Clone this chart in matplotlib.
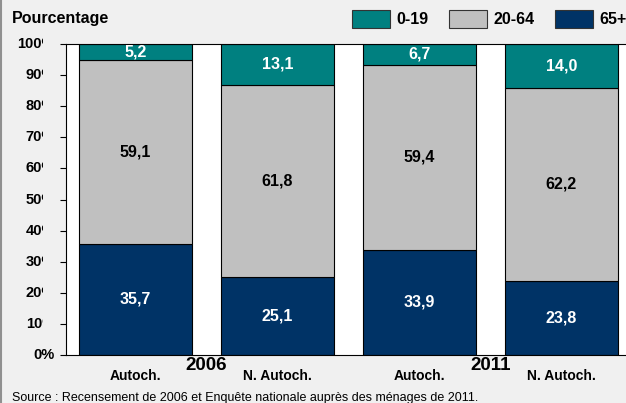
import matplotlib.pyplot as plt
from matplotlib import transforms
from matplotlib.patches import Patch

plt.rcParams["font.family"] = ["Liberation Sans", "DejaVu Sans"]

# data
groups = ["Autoch.", "N. Autoch.", "Autoch.", "N. Autoch."]
years = ["2006", "2011"]
age_0_19 = [5.2, 13.1, 6.7, 14.0]
age_20_64 = [59.1, 61.8, 59.4, 62.2]
age_65 = [35.7, 25.1, 33.9, 23.8]
series_names = ["0-19", "20-64", "65+"]
yticks = [0, 10, 20, 30, 40, 50, 60, 70, 80, 90, 100]

c_teal = "#008080"
c_gray = "#c0c0c0"
c_navy = "#003366"

W, H = 626, 403
fig = plt.figure(figsize=(W / 100, H / 100), dpi=100, facecolor="#f0f0f0")
ax = fig.add_axes([66 / W, 1 - 355 / H, 565 / W, 311 / H])
ax.set_facecolor("white")

x = list(range(len(groups)))
bottom_mid = age_65
bottom_top = [a + b for a, b in zip(age_65, age_20_64)]
kw = dict(width=0.8, edgecolor="black", linewidth=0.8)
ax.bar(x, age_65, color=c_navy, **kw)
ax.bar(x, age_20_64, bottom=bottom_mid, color=c_gray, **kw)
ax.bar(x, age_0_19, bottom=bottom_top, color=c_teal, **kw)

# value labels
vfs = 11.5
for i in x:
    ax.text(i, age_65[i] / 2, f"{age_65[i]:.1f}".replace(".", ","), ha="center",
            va="center", color="white", fontsize=vfs, fontweight="bold")
    ax.text(i, bottom_mid[i] + age_20_64[i] / 2, f"{age_20_64[i]:.1f}".replace(".", ","),
            ha="center", va="center", color="black", fontsize=vfs, fontweight="bold")
    ax.text(i, bottom_top[i] + age_0_19[i] / 2, f"{age_0_19[i]:.1f}".replace(".", ","),
            ha="center", va="center", color="white", fontsize=vfs, fontweight="bold")

ax.set_xlim(-0.49, 3.49)
ax.set_ylim(0, 100)
ax.set_yticks(yticks)
ax.set_xticks([])
ax.tick_params(axis="y", direction="out", length=4, width=0.8, labelleft=False)
for side in ["left", "bottom", "top"]:
    ax.spines[side].set_linewidth(0.8)
ax.spines["right"].set_visible(False)

# y labels, clipped like in the original (only 0% shows fully)
lab_tr = transforms.blended_transform_factory(fig.transFigure, ax.transData)
clip = transforms.TransformedBbox(transforms.Bbox([[0, 0], [0.43, 4.03]]), fig.dpi_scale_trans)
for v in yticks:
    t = ax.text(55 / W, v, f"{v}%", transform=lab_tr, ha="right", va="center",
                fontsize=10.5, fontweight="bold", clip_on=(v != 0))
    if v != 0:
        t.set_clip_box(clip)
        t.set_clip_path(None)

# category and year labels
cat_tr = transforms.blended_transform_factory(ax.transData, fig.transFigure)
for i in x:
    ax.text(i, 1 - 376 / H, groups[i], transform=cat_tr, ha="center", va="center",
            fontsize=10, fontweight="bold")
for j, yr in enumerate(years):
    ax.text(2 * j + 0.5, 1 - 366 / H, yr, transform=cat_tr, ha="center", va="center",
            fontsize=13.5, fontweight="bold")

fig.text(12 / W, 1 - 19 / H, "Pourcentage", ha="left", va="center",
         fontsize=11.5, fontweight="bold")
fig.text(12 / W, 1 - 398 / H,
         "Source : Recensement de 2006 et Enquête nationale auprès des ménages de 2011.",
         ha="left", va="center", fontsize=9)

handles = [Patch(facecolor=c, edgecolor="#333333", linewidth=0.8)
           for c in [c_teal, c_gray, c_navy]]
leg = fig.legend(handles, series_names, loc="center left", bbox_to_anchor=(352 / W, 1 - 19 / H),
                 ncol=3, frameon=False, handlelength=2.4, handleheight=1.45,
                 handletextpad=0.4, columnspacing=1.25, borderaxespad=0, borderpad=0,
                 prop={"weight": "bold", "size": 11.5})

# thin grey border on the left edge
fig.add_artist(plt.Line2D([0.5 / W, 0.5 / W], [0, 1], color="#909090", linewidth=1.5))

fig.savefig("out.png", dpi=100, facecolor=fig.get_facecolor())
